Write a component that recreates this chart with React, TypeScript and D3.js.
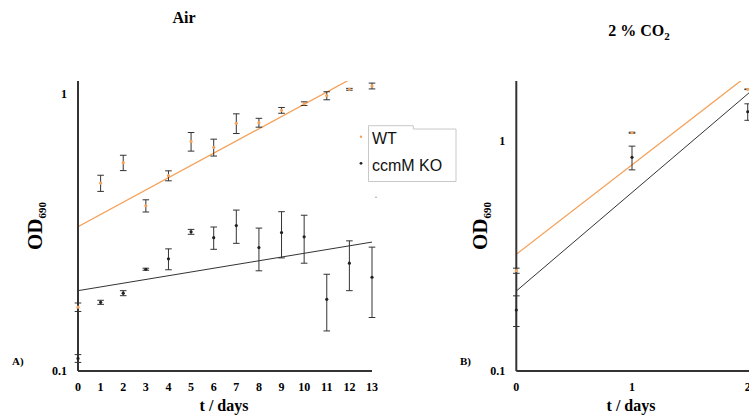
import React from "react";
import * as d3 from "d3";

// ---- data ----
const airDays = [0, 1, 2, 3, 4, 5, 6, 7, 8, 9, 10, 11, 12, 13];
const wtAir = [0.170, 0.477, 0.565, 0.395, 0.507, 0.674, 0.642, 0.784, 0.788, 0.873, 0.923, 0.986, 1.04, 1.069];
const wtAirErr = [0.006, 0.032, 0.036, 0.02, 0.021, 0.052, 0.045, 0.064, 0.029, 0.021, 0.014, 0.033, 0.008, 0.026];
const koAir = [0.111, 0.177, 0.191, 0.233, 0.254, 0.318, 0.303, 0.335, 0.279, 0.316, 0.305, 0.1815, 0.245, 0.218];
const koAirErr = [0.0036, 0.003, 0.004, 0.002, 0.022, 0.0065, 0.028, 0.046, 0.049, 0.06, 0.06, 0.042, 0.05, 0.062];

const co2Days = [0, 1, 2];
const wtCo2 = [0.2726, 1.083, 1.672];
const wtCo2Err = [0.007, 0.005, 0.005];
const koCo2 = [0.184, 0.847, 1.336];
const koCo2Err = [0.028, 0.1, 0.11];

// fitted exponential trend lines (endpoints)
const wtAirFit: [number, number][] = [[0, 0.332], [13, 1.246]];
const koAirFit: [number, number][] = [[0, 0.195], [13, 0.292]];
const wtCo2Fit: [number, number][] = [[0, 0.321], [2.1, 2.1]];
const koCo2Fit: [number, number][] = [[0, 0.2225], [2.1, 1.761]];

const yTicks = [0.1, 1];
const legendLabels = ["WT", "ccmM KO"];

const ORANGE = "#f4a15a";
const DARK = "#222";
const SERIF = "'Liberation Serif', 'Times New Roman', serif";
const SANS = "'Liberation Sans', Arial, sans-serif";

type PanelProps = {
  id: string;
  days: number[];
  xDomain: [number, number];
  xRange: [number, number];
  xTicks: number[];
  yRange: [number, number];
  wt: number[];
  wtErr: number[];
  ko: number[];
  koErr: number[];
  wtFit: [number, number][];
  koFit: [number, number][];
  axisEnd: number;
  title: React.ReactNode;
  titleX: number;
  titleY: number;
  tag: string;
  tagX: number;
  odX: number;
};

const TOP = 81;
const BOTTOM = 371;

function Panel(p: PanelProps) {
  const x = d3.scaleLinear().domain(p.xDomain).range(p.xRange);
  const y = d3.scaleLog().domain([0.1, 1]).range(p.yRange);
  const x0 = p.xRange[0];
  const line = d3
    .line<[number, number]>()
    .x((d) => x(d[0]))
    .y((d) => y(d[1]));
  const cap = 3.3;
  const errBars = (vals: number[], errs: number[]) =>
    p.days.map((d, i) => {
      const cx = x(d);
      const y1 = y(vals[i] + errs[i]);
      const y2 = y(vals[i] - errs[i]);
      return (
        <g key={i} stroke="#333" strokeWidth={1}>
          <line x1={cx} x2={cx} y1={y1} y2={y2} />
          <line x1={cx - cap} x2={cx + cap} y1={y1} y2={y1} />
          <line x1={cx - cap} x2={cx + cap} y1={y2} y2={y2} />
        </g>
      );
    });
  return (
    <g>
      <defs>
        <clipPath id={p.id}>
          <rect x={x0} y={TOP} width={p.axisEnd - x0} height={BOTTOM - TOP} />
        </clipPath>
      </defs>
      <text x={p.titleX} y={p.titleY} textAnchor="middle" fontFamily={SERIF} fontWeight="bold" fontSize={16}>
        {p.title}
      </text>
      {/* fit lines */}
      <g clipPath={`url(#${p.id})`} fill="none">
        <path d={line(p.wtFit) || ""} stroke={ORANGE} strokeWidth={1.3} />
        <path d={line(p.koFit) || ""} stroke="#333" strokeWidth={1} />
      </g>
      {/* axes */}
      <line x1={x0} x2={x0} y1={TOP} y2={BOTTOM} stroke="#333" strokeWidth={2} />
      <line x1={x0} x2={p.axisEnd} y1={BOTTOM} y2={BOTTOM} stroke="#333" strokeWidth={2} />
      {/* error bars and points */}
      {errBars(p.wt, p.wtErr)}
      {errBars(p.ko, p.koErr)}
      {p.days.map((d, i) => (
        <circle key={"w" + i} cx={x(d)} cy={y(p.wt[i])} r={1.6} fill={ORANGE} />
      ))}
      {p.days.map((d, i) => (
        <circle key={"k" + i} cx={x(d)} cy={y(p.ko[i])} r={1.6} fill={DARK} />
      ))}
      {/* tick labels */}
      {p.xTicks.map((t) => (
        <text key={"xt" + t} x={x(t)} y={390.5} textAnchor="middle" fontFamily={SERIF} fontWeight="bold" fontSize={12}>
          {t}
        </text>
      ))}
      {yTicks.map((t) => (
        <text key={"yt" + t} x={x0 - 11} y={y(t) + 4} textAnchor="end" fontFamily={SERIF} fontWeight="bold" fontSize={12}>
          {t}
        </text>
      ))}
      <text x={(x(0) + x(13 * 0 + (p.xTicks.length > 5 ? 13 : 1)) ) / 2 + (p.xTicks.length > 5 ? 77 : 0)} y={0} />
      <text x={p.tagX} y={365} fontFamily={SERIF} fontWeight="bold" fontSize={11}>
        {p.tag}
      </text>
      <text
        transform={`translate(${p.odX},226) rotate(-90)`}
        textAnchor="middle"
        fontFamily={SERIF}
        fontWeight="bold"
        fontSize={21}
      >
        OD<tspan fontSize={11} dy={4}>690</tspan>
      </text>
    </g>
  );
}

export default function App() {
  return (
    <svg
      width={749}
      height={420}
      viewBox="0 0 749 420"
      style={{ position: "absolute", left: 0, top: 0, background: "#fff" }}
    >
      <rect x={0} y={0} width={749} height={420} fill="#fff" />
      <Panel
        id="clipA"
        days={airDays}
        xDomain={[0, 13]}
        xRange={[78, 372]}
        xTicks={airDays}
        yRange={[371, 94]}
        wt={wtAir}
        wtErr={wtAirErr}
        ko={koAir}
        koErr={koAirErr}
        wtFit={wtAirFit}
        koFit={koAirFit}
        axisEnd={372}
        title="Air"
        titleX={184}
        titleY={23}
        tag="A)"
        tagX={12}
        odX={42}
      />
      <Panel
        id="clipB"
        days={co2Days}
        xDomain={[0, 2.1]}
        xRange={[516.3, 759.3]}
        xTicks={co2Days}
        yRange={[371, 140.7]}
        wt={wtCo2}
        wtErr={wtCo2Err}
        ko={koCo2}
        koErr={koCo2Err}
        wtFit={wtCo2Fit}
        koFit={koCo2Fit}
        axisEnd={760}
        title={
          <>
            2 % CO<tspan fontSize={11} dy={4}>2</tspan>
          </>
        }
        titleX={639}
        titleY={36}
        tag="B)"
        tagX={460}
        odX={487}
      />
      {/* x-axis titles */}
      <text x={224} y={410.5} textAnchor="middle" fontFamily={SERIF} fontWeight="bold" fontSize={16}>
        t / days
      </text>
      <text x={631} y={410.5} textAnchor="middle" fontFamily={SERIF} fontWeight="bold" fontSize={16}>
        t / days
      </text>
      {/* legend */}
      <path d="M368.5,181.5 V125.7 H413.3 V129 H456 V181.5 Z" fill="#fff" stroke="#c8c8c8" strokeWidth={1} />
      <circle cx={361} cy={136.7} r={1.2} fill={ORANGE} />
      <circle cx={361} cy={163.3} r={1.4} fill={DARK} />
      <text x={372} y={144} fontFamily={SANS} fontSize={16} fill="#111">
        {legendLabels[0]}
      </text>
      <text x={372} y={170.5} fontFamily={SANS} fontSize={16} fill="#111">
        {legendLabels[1]}
      </text>
      <circle cx={376} cy={197.3} r={0.8} fill="#999" />
    </svg>
  );
}
